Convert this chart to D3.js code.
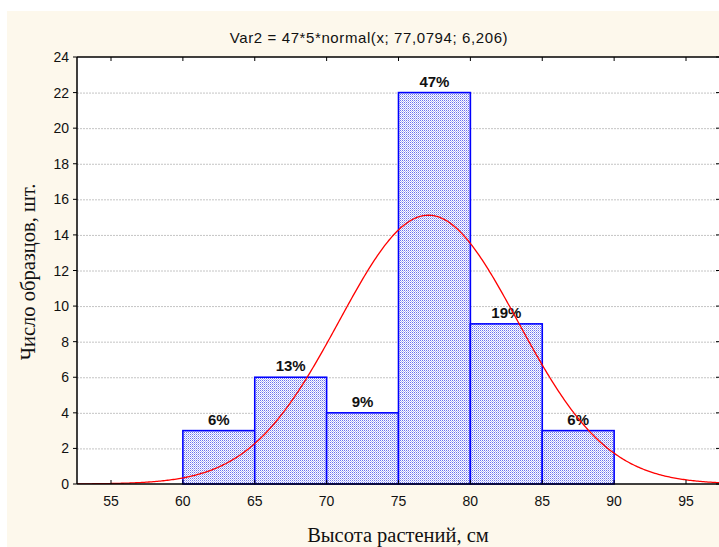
<!DOCTYPE html>
<html lang="ru">
<head>
<meta charset="UTF-8">
<title>Var2 histogram</title>
<script src="https://d3js.org/d3.v7.min.js"></script>
<style>
  body { margin: 0; background: #fff; }
  svg { display: block; }
  .tick-label { font-family: "Liberation Sans", Arial, sans-serif; font-size: 14px; fill: #111; }
  .pct { font-family: "Liberation Sans", Arial, sans-serif; font-size: 15px; font-weight: bold; fill: #111; }
  .axis-title { font-family: "Liberation Serif", "Times New Roman", serif; font-size: 20.5px; fill: #111; }
  .title { font-family: "Liberation Sans", Arial, sans-serif; font-size: 15px; letter-spacing: 0.6px; fill: #111; }
</style>
</head>
<body>
<svg id="chart" width="719" height="547"></svg>
<script>
// histogram bins (Высота растений, см) and counts
const binStarts = [60, 65, 70, 75, 80, 85];
const binWidth = 5;
const counts = [3, 6, 4, 22, 9, 3];
const percents = ["6%", "13%", "9%", "47%", "19%", "6%"];
const xTicks = [55, 60, 65, 70, 75, 80, 85, 90, 95];
const yTicks = [0, 2, 4, 6, 8, 10, 12, 14, 16, 18, 20, 22, 24];
// fitted curve parameters from the title
const nObs = 47, mu = 77.0794, sigma = 6.206;

const svg = d3.select("#chart");
const W = 719, H = 547;

// frame of the plot
const pLeft = 77, pRight = 720, pTop = 57, pBottom = 484;

svg.append("rect").attr("x", 7).attr("y", 11).attr("width", W - 7).attr("height", H - 11)
  .attr("fill", "#fdf8ec");

const x = d3.scaleLinear().domain([55, 95]).range([111, 686]);
const y = d3.scaleLinear().domain([0, 24]).range([pBottom, pTop]);

svg.append("rect").attr("x", pLeft).attr("y", pTop).attr("width", pRight - pLeft).attr("height", pBottom - pTop)
  .attr("fill", "#fff");

// hatch pattern for bars
const defs = svg.append("defs");
const pat = defs.append("pattern").attr("id", "hatch").attr("patternUnits", "userSpaceOnUse")
  .attr("width", 2).attr("height", 2);
pat.append("rect").attr("width", 2).attr("height", 2).attr("fill", "#ffffff");
pat.append("rect").attr("width", 1).attr("height", 1).attr("fill", "#6a72ee");
pat.append("rect").attr("x", 1).attr("y", 1).attr("width", 1).attr("height", 1).attr("fill", "#b4b8f6");

defs.append("clipPath").attr("id", "plotclip").append("rect")
  .attr("x", pLeft).attr("y", pTop).attr("width", pRight - pLeft).attr("height", pBottom - pTop);

// grid lines
svg.append("g").selectAll("line").data(yTicks.filter(d => d > 0 && d < 24)).join("line")
  .attr("x1", pLeft).attr("x2", pRight)
  .attr("y1", d => y(d) + 0.5).attr("y2", d => y(d) + 0.5)
  .attr("stroke", "#c4c4c4").attr("stroke-width", 1).attr("stroke-dasharray", "2,1");

// bars
svg.append("g").selectAll("rect").data(binStarts).join("rect")
  .attr("x", d => x(d))
  .attr("y", (d, i) => y(counts[i]))
  .attr("width", d => x(d + binWidth) - x(d))
  .attr("height", (d, i) => y(0) - y(counts[i]))
  .attr("fill", "url(#hatch)")
  .attr("stroke", "#0000ff").attr("stroke-width", 1.6);

// percent labels
svg.append("g").selectAll("text").data(binStarts).join("text")
  .attr("class", "pct")
  .attr("x", d => x(d + binWidth / 2))
  .attr("y", (d, i) => y(counts[i]) - 6)
  .attr("text-anchor", "middle")
  .text((d, i) => percents[i]);

// normal curve
const pdf = v => nObs * binWidth * Math.exp(-0.5 * ((v - mu) / sigma) ** 2) / (sigma * Math.sqrt(2 * Math.PI));
const xs = d3.range(x.invert(pLeft), x.invert(pRight) + 0.1, 0.1);
svg.append("path").datum(xs)
  .attr("clip-path", "url(#plotclip)")
  .attr("d", d3.line().x(d => x(d)).y(d => y(pdf(d))))
  .attr("fill", "none").attr("stroke", "#ff0000").attr("stroke-width", 1.3);

// axes frame
const ax = svg.append("g").attr("stroke", "#000");
ax.append("line").attr("x1", pLeft).attr("x2", pRight).attr("y1", pTop).attr("y2", pTop).attr("stroke-width", 1.5);
ax.append("line").attr("x1", pLeft).attr("x2", pRight).attr("y1", pBottom).attr("y2", pBottom).attr("stroke-width", 1.5);
ax.append("line").attr("x1", pLeft).attr("x2", pLeft).attr("y1", pTop).attr("y2", pBottom).attr("stroke-width", 1.5);
ax.append("line").attr("x1", pRight).attr("x2", pRight).attr("y1", pTop).attr("y2", pBottom).attr("stroke-width", 1.5);

// x ticks: inward on bottom and top
ax.selectAll(".xb").data(xTicks).join("line").attr("class", "xb")
  .attr("x1", d => x(d)).attr("x2", d => x(d)).attr("y1", pBottom).attr("y2", pBottom - 4);
ax.selectAll(".xt").data(xTicks).join("line").attr("class", "xt")
  .attr("x1", d => x(d)).attr("x2", d => x(d)).attr("y1", pTop).attr("y2", pTop + 4);
// y ticks: outward on left, inward on right
ax.selectAll(".yl").data(yTicks).join("line").attr("class", "yl")
  .attr("x1", pLeft).attr("x2", pLeft - 4).attr("y1", d => y(d)).attr("y2", d => y(d));
ax.selectAll(".yr").data(yTicks).join("line").attr("class", "yr")
  .attr("x1", pRight).attr("x2", pRight - 4).attr("y1", d => y(d)).attr("y2", d => y(d));

// tick labels
svg.append("g").selectAll("text").data(xTicks).join("text")
  .attr("class", "tick-label")
  .attr("x", d => x(d)).attr("y", pBottom + 22)
  .attr("text-anchor", "middle").text(d => d);
svg.append("g").selectAll("text").data(yTicks).join("text")
  .attr("class", "tick-label")
  .attr("x", pLeft - 8).attr("y", d => y(d) + 5)
  .attr("text-anchor", "end").text(d => d);

// titles
svg.append("text").attr("class", "title").attr("x", 369).attr("y", 43)
  .attr("text-anchor", "middle").text("Var2 = 47*5*normal(x; 77,0794; 6,206)");
svg.append("text").attr("class", "axis-title").attr("x", 398).attr("y", 542)
  .attr("text-anchor", "middle").text("Высота растений, см");
svg.append("text").attr("class", "axis-title")
  .attr("transform", "translate(35,272) rotate(-90)")
  .attr("text-anchor", "middle").text("Число образцов, шт.");
</script>
</body>
</html>
